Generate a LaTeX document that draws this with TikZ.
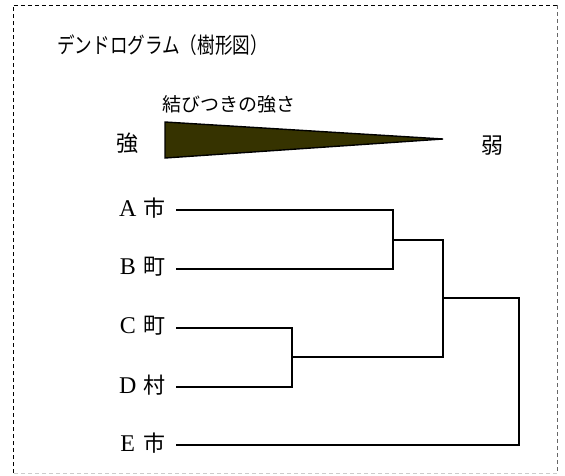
\documentclass[tikz,border=0pt]{standalone}
\usepackage{fontspec}
\setmainfont{Liberation Serif}
\newfontfamily\jp{Noto Sans CJK JP}
\definecolor{olive}{RGB}{54,51,0}
\newcommand{\latinbox}[1]{\makebox[32pt][c]{\fontsize{24}{26}\selectfont #1}}
\begin{document}
\begin{tikzpicture}[x=1pt,y=-1pt,
  frame/.style={line width=0.9pt,dash pattern=on 4pt off 3pt},
  link/.style={line width=1.8pt,line cap=rect},
  lab/.style={anchor=east,inner sep=0pt,font=\fontsize{22}{24}\selectfont},
  big/.style={inner sep=0pt,font=\jp\fontsize{22}{24}\selectfont}]
\useasboundingbox (0,0) rectangle (565,475);
% frame
\draw[frame,black] (13,473) -- (13,5) -- (557,5);
\draw[frame,gray!80!black] (557,5) -- (557,473);
\draw[frame,gray!40] (557,473) -- (13,473);
% title
\node[anchor=west,inner sep=0pt,font=\jp\fontsize{22}{24}\selectfont] (title) at (57,45) {\scalebox{0.8}[1]{デンドログラム（樹形図）}};
\node[anchor=west,inner sep=0pt,font=\jp\fontsize{19}{22}\selectfont] (sub) at (162,104) {結びつきの強さ};
\node[big] (strong) at (127,143) {強};
\node[big] (weak) at (492,146) {弱};
\coordinate (t1) at (165,122);
\coordinate (t2) at (443,139);
\coordinate (t3) at (165,158);
\draw[line width=1.4pt,fill=olive,line join=miter] (t1) -- (t2) -- (t3) -- cycle;
% labels
\node[lab] (A) at (166,208) {\latinbox{A}{\jp 市}};
\node[lab] (B) at (166,267) {\latinbox{B}{\jp 町}};
\node[lab] (C) at (166,326) {\latinbox{C}{\jp 町}};
\node[lab] (D) at (166,385) {\latinbox{D}{\jp 村}};
\node[lab] (E) at (166,443) {\latinbox{E}{\jp 市}};
\coordinate (sA) at (177,210);
\coordinate (sB) at (177,269);
\coordinate (sC) at (177,328);
\coordinate (sD) at (177,387);
\coordinate (sE) at (177,445);
\coordinate (jAB) at (393,240);
\coordinate (jCD) at (292,357);
\coordinate (jABCD) at (443,298);
\coordinate (root) at (519,371);
\draw[link] (sA) -| (jAB) |- (sB);
\draw[link] (sC) -| (jCD) |- (sD);
\draw[link] (jAB) -| (jABCD) |- (jCD);
\draw[link] (jABCD) -| (root) |- (sE);
\end{tikzpicture}
\end{document}
